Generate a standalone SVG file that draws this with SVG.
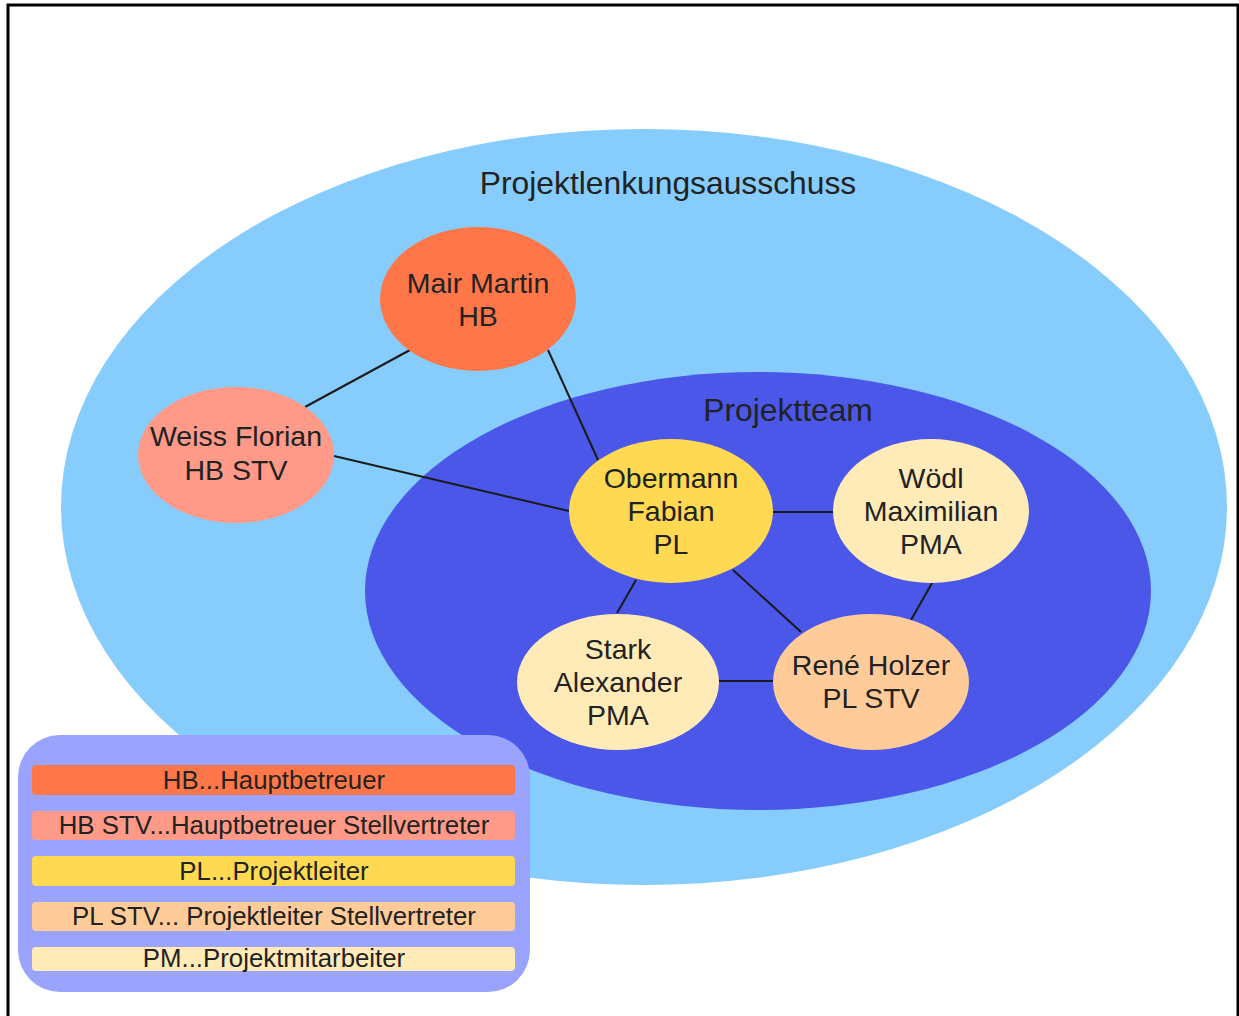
<svg xmlns="http://www.w3.org/2000/svg" width="1239" height="1016" viewBox="0 0 1239 1016">
<style>
text{font-family:"Liberation Sans",Arial,sans-serif;fill:#222;text-anchor:middle}
.n{font-size:28.5px}
.t{font-size:31.8px}
.l{font-size:25.8px}
.c{stroke:#1a1a1a;stroke-width:2;fill:none}
</style>
<rect x="0" y="0" width="1239" height="1016" fill="#fff"/>
<rect x="8" y="5" width="1230" height="1030" fill="none" stroke="#000" stroke-width="3"/>
<g id="lenkungsausschuss">
<ellipse cx="644" cy="507" rx="583" ry="378" fill="#86CCFC"/>
<text class="t" x="668" y="194">Projektlenkungsausschuss</text>
</g>
<g id="projektteam">
<ellipse cx="758" cy="591" rx="393" ry="219" fill="#4A57E8"/>
<text class="t" x="788" y="421">Projektteam</text>
</g>
<g id="connectors">
<line class="c" x1="305" y1="407" x2="410" y2="350"/>
<line class="c" x1="548" y1="350" x2="598" y2="460"/>
<line class="c" x1="334" y1="456" x2="569" y2="511"/>
<line class="c" x1="773" y1="512" x2="834" y2="512"/>
<line class="c" x1="636" y1="580" x2="617" y2="613"/>
<line class="c" x1="733" y1="570" x2="801" y2="632"/>
<line class="c" x1="932" y1="583" x2="911" y2="620"/>
<line class="c" x1="719" y1="681" x2="773" y2="681"/>
</g>
<g id="mair">
<ellipse cx="478" cy="299" rx="98" ry="72" fill="#FF7749"/>
<text class="n" x="478" y="293">Mair Martin</text>
<text class="n" x="478" y="326">HB</text>
</g>
<g id="weiss">
<ellipse cx="236" cy="455" rx="98" ry="68" fill="#FF9A88"/>
<text class="n" x="236" y="446">Weiss Florian</text>
<text class="n" x="236" y="480">HB STV</text>
</g>
<g id="obermann">
<ellipse cx="671" cy="511" rx="102" ry="72" fill="#FFD951"/>
<text class="n" x="671" y="488">Obermann</text>
<text class="n" x="671" y="521">Fabian</text>
<text class="n" x="671" y="554">PL</text>
</g>
<g id="woedl">
<ellipse cx="931" cy="511" rx="98" ry="72" fill="#FFEBB8"/>
<text class="n" x="931" y="488">Wödl</text>
<text class="n" x="931" y="521">Maximilian</text>
<text class="n" x="931" y="554">PMA</text>
</g>
<g id="stark">
<ellipse cx="618" cy="682" rx="101" ry="68" fill="#FFEBB8"/>
<text class="n" x="618" y="659">Stark</text>
<text class="n" x="618" y="692">Alexander</text>
<text class="n" x="618" y="725">PMA</text>
</g>
<g id="holzer">
<ellipse cx="871" cy="682" rx="98" ry="68" fill="#FFCC99"/>
<text class="n" x="871" y="675">René Holzer</text>
<text class="n" x="871" y="708">PL STV</text>
</g>
<g id="legend">
<rect x="18" y="735" width="512" height="257" rx="42" fill="#9AA3FE"/>
<rect x="32" y="765" width="483" height="30" rx="4" fill="#FF7749"/>
<text class="l" x="274" y="789">HB...Hauptbetreuer</text>
<rect x="32" y="811" width="483" height="29" rx="4" fill="#FF9A88"/>
<text class="l" x="274" y="834">HB STV...Hauptbetreuer Stellvertreter</text>
<rect x="32" y="856" width="483" height="30" rx="4" fill="#FFD951"/>
<text class="l" x="274" y="880">PL...Projektleiter</text>
<rect x="32" y="902" width="483" height="29" rx="4" fill="#FFCC99"/>
<text class="l" x="274" y="925">PL STV... Projektleiter Stellvertreter</text>
<rect x="32" y="947" width="483" height="24" rx="4" fill="#FFEBB8"/>
<text class="l" x="274" y="967">PM...Projektmitarbeiter</text>
</g>
</svg>
